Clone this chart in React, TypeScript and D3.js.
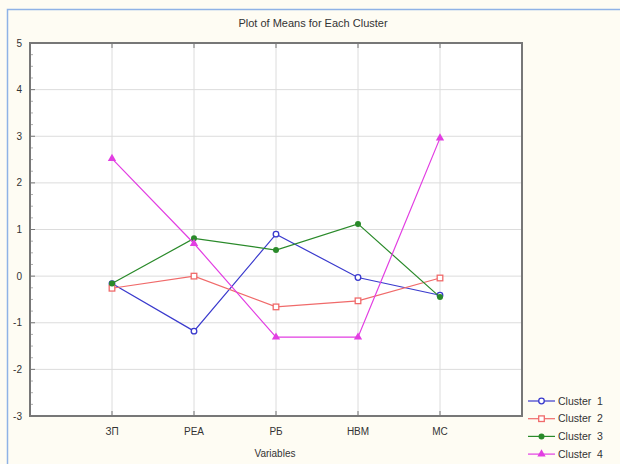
import React from "react";
import * as d3 from "d3";

const categories = ["ЗП", "РЕА", "РБ", "НВМ", "МС"];
const seriesNames = ["Cluster  1", "Cluster  2", "Cluster  3", "Cluster  4"];
const cluster1 = [-0.16, -1.18, 0.9, -0.03, -0.41];
const cluster2 = [-0.26, 0.0, -0.66, -0.53, -0.04];
const cluster3 = [-0.16, 0.81, 0.56, 1.12, -0.45];
const cluster4 = [2.52, 0.7, -1.31, -1.31, 2.96];
const yTicks = [5, 4, 3, 2, 1, 0, -1, -2, -3];

const colors = ["#3a3acd", "#f06a6a", "#2a8a2a", "#e23ee2"];
const markers = ["circle-open", "square-open", "circle-fill", "triangle"];

const W = 620, H = 464;
const L = 30, R = 522, T = 43, B = 416;
const font = "'Liberation Sans', Arial, sans-serif";

function Marker({ type, x, y, color }: { type: string; x: number; y: number; color: string }) {
  if (type === "circle-open") return <circle cx={x} cy={y} r={2.8} fill="white" stroke={color} strokeWidth={1.3} />;
  if (type === "square-open") return <rect x={x - 2.8} y={y - 2.8} width={5.6} height={5.6} fill="white" stroke={color} strokeWidth={1.3} />;
  if (type === "circle-fill") return <circle cx={x} cy={y} r={3} fill={color} />;
  const p = d3.symbol(d3.symbolTriangle, 30)();
  return <path d={p || ""} transform={`translate(${x},${y})`} fill={color} />;
}

export default function App() {
  const x = d3.scaleLinear().domain([0, categories.length + 1]).range([L, R]);
  const y = d3.scaleLinear().domain([-3, 5]).range([B, T]);
  const data = [cluster1, cluster2, cluster3, cluster4];
  const line = d3.line<number>().x((_, i) => x(i + 1)).y((d) => y(d));
  const minor = d3.range(-3, 5.001, 0.25).filter((v) => Math.abs(v - Math.round(v)) > 1e-6);

  return (
    <svg width={W} height={H} style={{ position: "absolute", left: 0, top: 0 }} fontFamily={font}>
      <rect x={0} y={0} width={W} height={H} fill="#fefcf3" />
      <path d={`M7.5,${H} V9.5 H${W}`} fill="none" stroke="#8fb2e6" strokeWidth={1.5} />
      <text x={313} y={27} textAnchor="middle" fontSize={11} fill="#333">Plot of Means for Each Cluster</text>
      <rect x={L} y={T} width={R - L} height={B - T} fill="white" />
      {yTicks.map((t) => (
        <line key={"gy" + t} x1={L} x2={R} y1={y(t)} y2={y(t)} stroke="#dcdcdc" strokeWidth={1} />
      ))}
      {categories.map((c, i) => (
        <line key={"gx" + c} x1={x(i + 1)} x2={x(i + 1)} y1={T} y2={B} stroke="#dcdcdc" strokeWidth={1} />
      ))}
      {minor.map((t) => (
        <line key={"mn" + t} x1={L} x2={L + 3} y1={y(t)} y2={y(t)} stroke="#999" strokeWidth={0.8} />
      ))}
      {yTicks.map((t) => (
        <g key={"ty" + t}>
          <line x1={L} x2={L + 5} y1={y(t)} y2={y(t)} stroke="#777" />
          <text x={22} y={y(t) + 3.5} textAnchor="end" fontSize={10} fill="#333">{t}</text>
        </g>
      ))}
      {categories.map((c, i) => (
        <g key={"tx" + c}>
          <line x1={x(i + 1)} x2={x(i + 1)} y1={B} y2={B - 5} stroke="#777" />
          <line x1={x(i + 1)} x2={x(i + 1)} y1={T} y2={T + 5} stroke="#777" />
          <text x={x(i + 1)} y={435} textAnchor="middle" fontSize={10} fill="#333">{c}</text>
        </g>
      ))}
      <rect x={L} y={T} width={R - L} height={B - T} fill="none" stroke="#777" strokeWidth={2} />
      <text x={275} y={457} textAnchor="middle" fontSize={10} fill="#333">Variables</text>
      {data.map((s, k) => (
        <g key={"s" + k}>
          <path d={line(s) || ""} fill="none" stroke={colors[k]} strokeWidth={1.2} />
          {s.map((v, i) => (
            <Marker key={i} type={markers[k]} x={x(i + 1)} y={y(v)} color={colors[k]} />
          ))}
        </g>
      ))}
      {seriesNames.map((n, k) => {
        const ly = 401 + k * 17.7;
        return (
          <g key={"lg" + k}>
            <line x1={528} x2={555} y1={ly} y2={ly} stroke={colors[k]} strokeWidth={1.2} />
            <Marker type={markers[k]} x={541.5} y={ly} color={colors[k]} />
            <text x={558} y={ly + 3.5} fontSize={10.5} fill="#333" style={{ whiteSpace: "pre" }}>{n}</text>
          </g>
        );
      })}
    </svg>
  );
}
